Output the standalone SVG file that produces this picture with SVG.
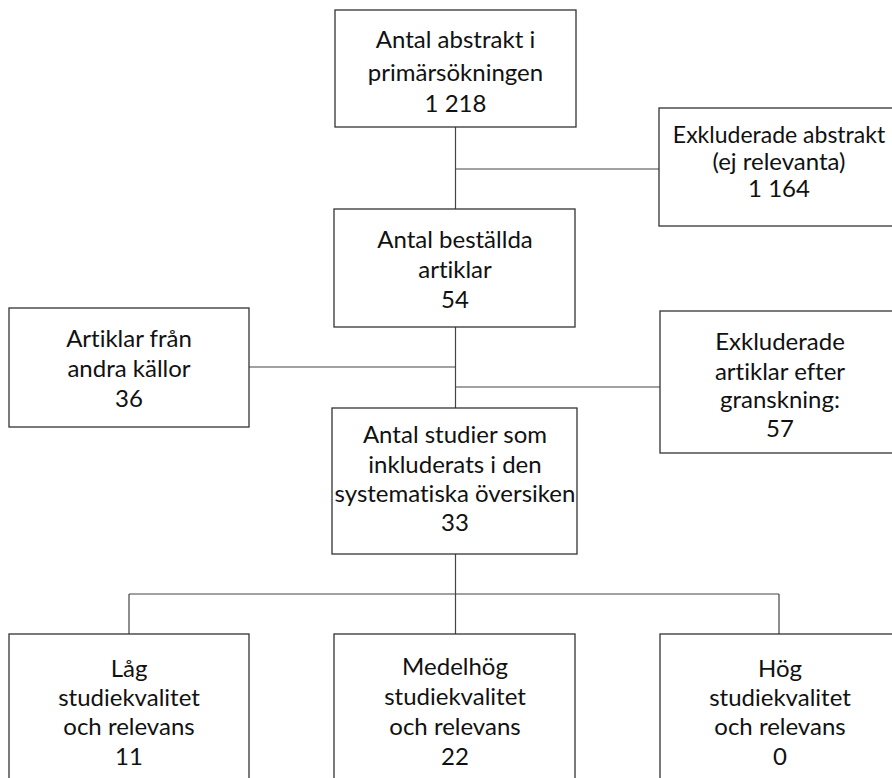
<svg xmlns="http://www.w3.org/2000/svg" width="892" height="778" viewBox="0 0 892 778">
<style>
.box{fill:#fff;stroke:#333;stroke-width:1.3}
.ln{fill:none;stroke:#444;stroke-width:1.2}
text{font-family:"Lato","Open Sans","Liberation Sans",sans-serif;font-size:24px;fill:#111;text-anchor:middle;font-variant-ligatures:none;font-feature-settings:"liga" 0}
</style>
<rect width="892" height="778" fill="#fff"/>
<g id="connectors">
<path class="ln" d="M455.5 127V209M455.5 169H659M455.5 327V408M249 367H455.5M455.5 387H660M455.5 554V634M129 594H779M129 594V634M779 594V634"/>
</g>
<g id="n1"><rect class="box" x="335" y="10" width="241" height="117"/>
<text x="455.5" y="48">Antal abstrakt i</text>
<text x="455.5" y="81">primärsökningen</text>
<text x="455.5" y="112">1 218</text></g>
<g id="n2"><rect class="box" x="659" y="108" width="240" height="118"/>
<text x="779" y="143" style="font-size:23px">Exkluderade abstrakt</text>
<text x="779" y="170">(ej relevanta)</text>
<text x="779" y="197">1 164</text></g>
<g id="n3"><rect class="box" x="334" y="209" width="241" height="118"/>
<text x="455" y="248">Antal beställda</text>
<text x="455" y="278">artiklar</text>
<text x="455" y="308">54</text></g>
<g id="n4"><rect class="box" x="9" y="308" width="240" height="119"/>
<text x="129" y="347">Artiklar från</text>
<text x="129" y="377">andra källor</text>
<text x="129" y="407">36</text></g>
<g id="n5"><rect class="box" x="660" y="311" width="240" height="142"/>
<text x="780" y="350">Exkluderade</text>
<text x="780" y="380">artiklar efter</text>
<text x="780" y="408">granskning:</text>
<text x="780" y="437">57</text></g>
<g id="n6"><rect class="box" x="332" y="408" width="245" height="146"/>
<text x="455" y="443">Antal studier som</text>
<text x="455" y="473">inkluderats i den</text>
<text x="455" y="502">systematiska översiken</text>
<text x="455" y="531">33</text></g>
<g id="n7"><rect class="box" x="9" y="634" width="240" height="160"/>
<text x="129" y="677">Låg</text>
<text x="129" y="706">studiekvalitet</text>
<text x="129" y="735">och relevans</text>
<text x="129" y="765">11</text></g>
<g id="n8"><rect class="box" x="334" y="634" width="241" height="160"/>
<text x="455" y="675">Medelhög</text>
<text x="455" y="705">studiekvalitet</text>
<text x="455" y="735">och relevans</text>
<text x="455" y="765">22</text></g>
<g id="n9"><rect class="box" x="660" y="634" width="240" height="160"/>
<text x="780" y="677">Hög</text>
<text x="780" y="706">studiekvalitet</text>
<text x="780" y="735">och relevans</text>
<text x="780" y="765">0</text></g>
</svg>
